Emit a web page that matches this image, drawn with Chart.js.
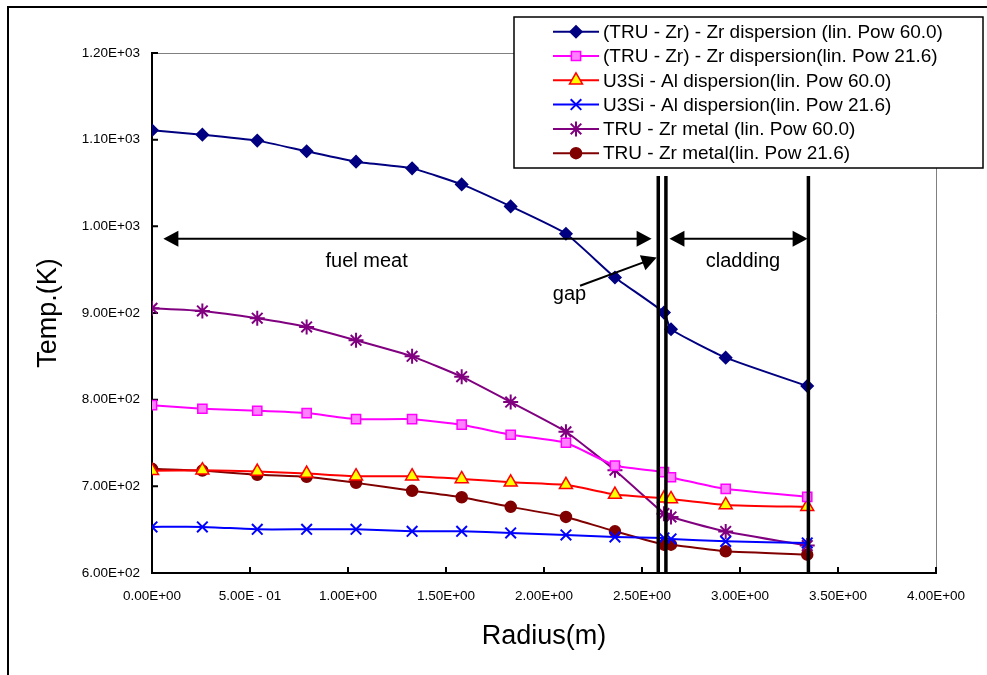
<!DOCTYPE html>
<html>
<head>
<meta charset="utf-8">
<script src="https://cdn.jsdelivr.net/npm/chart.js@4.4.1/dist/chart.umd.min.js"></script>
<style>
  html, body { margin: 0; padding: 0; background: #fff; }
  #wrap { width: 987px; height: 675px; position: relative; }
</style>
</head>
<body>
<div id="wrap"><canvas id="c" width="987" height="675"></canvas></div>
<script>
// ---- data ----
const radius = [0, 0.257, 0.537, 0.789, 1.041, 1.327, 1.58, 1.83, 2.112, 2.362, 2.612, 2.648, 2.927, 3.343];
const truZrDisp60 = [1110.9, 1105.8, 1098.9, 1086.6, 1074.6, 1066.9, 1048.4, 1023.0, 991.4, 941.0, 900.5, 881.2, 848.5, 815.7];
const truZrDisp216 = [793.7, 789.5, 787.2, 784.5, 777.5, 777.5, 771.1, 759.5, 750.3, 724.0, 716.3, 710.5, 697.1, 687.8];
const u3siAl60 = [717.9, 718.6, 717.1, 714.8, 711.7, 711.7, 708.6, 704.7, 701.7, 690.5, 686.2, 685.5, 678.6, 676.3];
const u3siAl216 = [653.2, 653.2, 650.4, 650.4, 650.4, 648.1, 648.1, 646.2, 643.9, 641.6, 640.5, 639.3, 636.5, 634.7];
const truZrMetal60 = [905.5, 902.4, 894.0, 883.9, 868.5, 850.0, 826.5, 797.2, 763.0, 718.6, 668.5, 664.7, 648.0, 631.6];
const truZrMetal216 = [720.2, 718.2, 713.3, 711.0, 704.0, 694.8, 687.4, 676.3, 664.7, 648.1, 632.7, 632.7, 625.0, 621.2];

const seriesNames = [
  '(TRU - Zr) - Zr dispersion (lin. Pow 60.0)',
  '(TRU - Zr) - Zr dispersion(lin. Pow 21.6)',
  'U3Si - Al dispersion(lin. Pow 60.0)',
  'U3Si - Al dispersion(lin. Pow 21.6)',
  'TRU - Zr metal (lin. Pow 60.0)',
  'TRU - Zr metal(lin. Pow 21.6)'
];
const xTickLabels = ['0.00E+00', '5.00E - 01', '1.00E+00', '1.50E+00', '2.00E+00', '2.50E+00', '3.00E+00', '3.50E+00', '4.00E+00'];
const yTickLabels = ['6.00E+02', '7.00E+02', '8.00E+02', '9.00E+02', '1.00E+03', '1.10E+03', '1.20E+03'];

// region boundaries (radius) and annotation levels
const boundaryX = [2.583, 2.622, 3.349];
const boundaryTop = 1058;
const arrowLevel = 985.8;

// ---- styles ----
const styles = [
  { color: '#000080', fill: '#000080', point: 'rectRot', r: 6 },
  { color: '#FF00FF', fill: '#FF80FF', point: 'rect', r: 6.5 },
  { color: '#FF0000', fill: '#FFFF00', point: 'triangle', r: 7.5 },
  { color: '#0000FF', fill: '#0000FF', point: 'crossRot', r: 7.5 },
  { color: '#800080', fill: '#800080', point: 'star', r: 7.5 },
  { color: '#800000', fill: '#800000', point: 'circle', r: 5.5 }
];
const seriesData = [truZrDisp60, truZrDisp216, u3siAl60, u3siAl216, truZrMetal60, truZrMetal216];

const FONT = '"Liberation Sans", Arial, sans-serif';

const datasets = seriesData.map((vals, i) => ({
  label: seriesNames[i],
  data: vals.map((v, k) => ({ x: radius[k], y: v })),
  borderColor: styles[i].color,
  backgroundColor: styles[i].fill,
  pointBackgroundColor: styles[i].fill,
  pointBorderColor: styles[i].color,
  pointBorderWidth: (styles[i].point === 'crossRot' || styles[i].point === 'star') ? 2 : 1.5,
  pointStyle: styles[i].point,
  pointRadius: styles[i].r,
  borderWidth: 2,
  tension: 0.15,
  fill: false
}));

function drawMarker(ctx, s, x, y) {
  const r = s.r;
  ctx.save();
  ctx.fillStyle = s.fill; ctx.strokeStyle = s.color;
  ctx.lineWidth = (s.point === 'crossRot' || s.point === 'star') ? 2 : 1.5;
  ctx.beginPath();
  if (s.point === 'rectRot') {
    ctx.moveTo(x, y - r); ctx.lineTo(x + r, y); ctx.lineTo(x, y + r); ctx.lineTo(x - r, y); ctx.closePath();
    ctx.fill(); ctx.stroke();
  } else if (s.point === 'rect') {
    const h = r * Math.SQRT1_2;
    ctx.rect(x - h, y - h, 2 * h, 2 * h); ctx.fill(); ctx.stroke();
  } else if (s.point === 'triangle') {
    ctx.moveTo(x, y - r); ctx.lineTo(x + r * 0.866, y + r * 0.5); ctx.lineTo(x - r * 0.866, y + r * 0.5); ctx.closePath();
    ctx.fill(); ctx.stroke();
  } else if (s.point === 'crossRot') {
    const h = r * Math.SQRT1_2;
    ctx.moveTo(x - h, y - h); ctx.lineTo(x + h, y + h); ctx.moveTo(x + h, y - h); ctx.lineTo(x - h, y + h); ctx.stroke();
  } else if (s.point === 'star') {
    const h = r * Math.SQRT1_2;
    ctx.moveTo(x - h, y - h); ctx.lineTo(x + h, y + h); ctx.moveTo(x + h, y - h); ctx.lineTo(x - h, y + h);
    ctx.moveTo(x, y - r); ctx.lineTo(x, y + r); ctx.stroke();
  } else {
    ctx.arc(x, y, r, 0, Math.PI * 2); ctx.fill(); ctx.stroke();
  }
  ctx.restore();
}

function arrowHead(ctx, x1, y1, x2, y2) {
  const ang = Math.atan2(y2 - y1, x2 - x1);
  const L = 15, W = 8;
  ctx.beginPath();
  ctx.moveTo(x2, y2);
  ctx.lineTo(x2 - L * Math.cos(ang) + W * Math.sin(ang), y2 - L * Math.sin(ang) - W * Math.cos(ang));
  ctx.lineTo(x2 - L * Math.cos(ang) - W * Math.sin(ang), y2 - L * Math.sin(ang) + W * Math.cos(ang));
  ctx.closePath(); ctx.fill();
}
function arrow(ctx, x1, y1, x2, y2, both) {
  const ang = Math.atan2(y2 - y1, x2 - x1);
  ctx.beginPath();
  ctx.moveTo(both ? x1 + 12 * Math.cos(ang) : x1, both ? y1 + 12 * Math.sin(ang) : y1);
  ctx.lineTo(x2 - 12 * Math.cos(ang), y2 - 12 * Math.sin(ang));
  ctx.stroke();
  arrowHead(ctx, x1, y1, x2, y2);
  if (both) arrowHead(ctx, x2, y2, x1, y1);
}

const decor = {
  id: 'decor',
  beforeDatasetsDraw(chart) {
    const { ctx, chartArea: a, scales: { x, y } } = chart;
    ctx.save();
    // plot area top & right gray border
    ctx.strokeStyle = '#808080'; ctx.lineWidth = 1;
    ctx.beginPath();
    ctx.moveTo(a.left, a.top + 0.5); ctx.lineTo(a.right + 0.5, a.top + 0.5); ctx.lineTo(a.right + 0.5, a.bottom);
    ctx.stroke();
    // inward tick marks
    ctx.strokeStyle = '#000'; ctx.lineWidth = 2;
    ctx.beginPath();
    x.ticks.forEach(t => { const px = x.getPixelForValue(t.value); ctx.moveTo(px, a.bottom); ctx.lineTo(px, a.bottom - 6); });
    y.ticks.forEach(t => { const py = y.getPixelForValue(t.value); ctx.moveTo(a.left, py); ctx.lineTo(a.left + 6, py); });
    ctx.stroke();
    ctx.restore();
  },
  afterDatasetsDraw(chart) {
    const { ctx, chartArea: a, scales: { x, y } } = chart;
    ctx.save();
    // boundary lines
    ctx.strokeStyle = '#000'; ctx.lineWidth = 3.5;
    ctx.beginPath();
    boundaryX.forEach(b => { const px = x.getPixelForValue(b); ctx.moveTo(px, y.getPixelForValue(boundaryTop)); ctx.lineTo(px, a.bottom); });
    ctx.stroke();
    // arrows
    ctx.fillStyle = '#000'; ctx.lineWidth = 2;
    const ay = y.getPixelForValue(arrowLevel);
    arrow(ctx, x.getPixelForValue(0.058), ay, x.getPixelForValue(2.549), ay, true);
    arrow(ctx, x.getPixelForValue(2.640), ay, x.getPixelForValue(3.345), ay, true);
    arrow(ctx, x.getPixelForValue(2.184), y.getPixelForValue(931.5), x.getPixelForValue(2.575), y.getPixelForValue(964), false);
    // labels
    ctx.font = '20px ' + FONT; ctx.textAlign = 'center'; ctx.textBaseline = 'middle';
    ctx.fillText('fuel meat', x.getPixelForValue(1.095), y.getPixelForValue(959));
    ctx.fillText('cladding', x.getPixelForValue(3.015), y.getPixelForValue(959.5));
    ctx.fillText('gap', x.getPixelForValue(2.13), y.getPixelForValue(921));
    ctx.restore();
  },
  afterDraw(chart) {
    const { ctx } = chart;
    ctx.save();
    // outer frame
    ctx.strokeStyle = '#000'; ctx.lineWidth = 2;
    ctx.strokeRect(8, 7, 1000, 700);
    // legend
    const L = 514, T = 17, R = 983, B = 168;
    ctx.fillStyle = '#fff'; ctx.fillRect(L, T, R - L, B - T);
    ctx.lineWidth = 1.5; ctx.strokeStyle = '#000'; ctx.strokeRect(L, T, R - L, B - T);
    ctx.font = '19px ' + FONT; ctx.textAlign = 'left'; ctx.textBaseline = 'middle';
    seriesNames.forEach((name, i) => {
      const yy = 31.7 + 24.3 * i;
      ctx.strokeStyle = styles[i].color; ctx.lineWidth = 2;
      ctx.beginPath(); ctx.moveTo(553, yy); ctx.lineTo(599, yy); ctx.stroke();
      drawMarker(ctx, styles[i], 576, yy);
      ctx.fillStyle = '#000';
      ctx.fillText(name, 603, yy + 1);
    });
    ctx.restore();
  }
};

new Chart(document.getElementById('c'), {
  type: 'line',
  data: { datasets },
  options: {
    responsive: false,
    animation: false,
    events: [],
    layout: { padding: { top: 53, right: 51, left: 0, bottom: 0 } },
    plugins: { legend: { display: false }, tooltip: { enabled: false } },
    scales: {
      x: {
        type: 'linear', min: 0, max: 4,
        afterFit: s => { s.height = 102; },
        ticks: {
          stepSize: 0.5, padding: 15, color: '#000', maxRotation: 0, autoSkip: false,
          font: { family: FONT, size: 13.5 },
          callback: v => xTickLabels[Math.round(v / 0.5)]
        },
        grid: { display: true, drawOnChartArea: false, drawTicks: false },
        border: { display: true, color: '#000', width: 2 },
        title: { display: true, text: 'Radius(m)', color: '#000', font: { family: FONT, size: 27 }, padding: { top: 0, bottom: 22 } }
      },
      y: {
        type: 'linear', min: 600, max: 1200,
        afterFit: s => { s.width = 152; },
        ticks: {
          stepSize: 100, padding: 12, color: '#000',
          font: { family: FONT, size: 13.5 },
          callback: v => yTickLabels[Math.round((v - 600) / 100)]
        },
        grid: { display: true, drawOnChartArea: false, drawTicks: false },
        border: { display: true, color: '#000', width: 2 },
        title: { display: true, text: 'Temp.(K)', color: '#000', font: { family: FONT, size: 27 }, padding: { top: 32, bottom: 0 } }
      }
    }
  },
  plugins: [decor]
});
</script>
</body>
</html>
